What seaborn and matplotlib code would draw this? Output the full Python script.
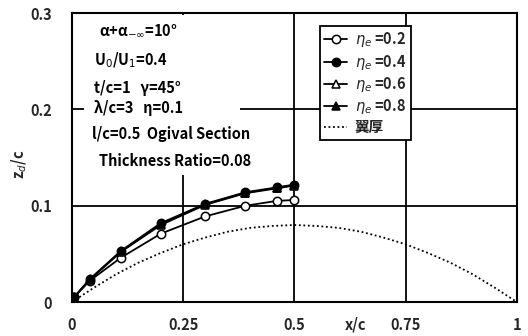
import matplotlib
matplotlib.use("Agg")
import matplotlib.pyplot as plt
import seaborn as sns
import numpy as np
import pandas as pd
from matplotlib.patches import Rectangle

# ---- data ----
x_pts = [0.005, 0.04, 0.11, 0.20, 0.30, 0.39, 0.46, 0.50]
eta02 = [0.005, 0.022, 0.046, 0.071, 0.089, 0.100, 0.105, 0.106]
eta04 = [0.005, 0.0235, 0.053, 0.082, 0.102, 0.114, 0.119, 0.122]
eta06 = [0.005, 0.023, 0.052, 0.080, 0.101, 0.113, 0.118, 0.121]
eta08 = [0.005, 0.0235, 0.0525, 0.081, 0.1015, 0.1135, 0.1185, 0.1215]
thick_x = [0.0, 0.05, 0.10, 0.15, 0.20, 0.25, 0.30, 0.35, 0.40, 0.45, 0.50,
           0.55, 0.60, 0.65, 0.70, 0.75, 0.80, 0.85, 0.90, 0.95, 1.0]
thick_y = [0.0, 0.015, 0.029, 0.041, 0.051, 0.060, 0.067, 0.073, 0.077, 0.079, 0.080,
           0.079, 0.077, 0.073, 0.067, 0.060, 0.051, 0.041, 0.029, 0.015, 0.0]
labels = [r"$\eta_e$ =0.2", r"$\eta_e$ =0.4", r"$\eta_e$ =0.6", r"$\eta_e$ =0.8", "翼厚"]
xticks = [0, 0.25, 0.5, 0.75, 1]
xticklabels = ["0", "0.25", "0.5", "0.75", "1"]
yticks = [0, 0.1, 0.2, 0.3]
yticklabels = ["0", "0.1", "0.2", "0.3"]

sns.set_theme(style="white")
plt.rcParams['font.family'] = ['Noto Sans CJK JP', 'DejaVu Sans']
plt.rcParams['mathtext.fontset'] = 'dejavusans'

fig = plt.figure(figsize=(5.28, 3.36), dpi=100)
ax = fig.add_axes([0.136, 0.101, 0.843, 0.860])
ax.set_xlim(0, 1)
ax.set_ylim(0, 0.3)

# grid lines
for gx in [0.25, 0.5, 0.75]:
    ax.axvline(gx, color='black', lw=1.3, zorder=1)
for gy in [0.1, 0.2]:
    ax.axhline(gy, color='black', lw=1.3, zorder=1)

# white box behind annotation text
ax.add_patch(Rectangle((0.027, 0.132), 0.35, 0.166, facecolor='white',
                       edgecolor='none', zorder=1.5))

series = [
    (eta02, 'o', 'white'),
    (eta04, 'o', 'black'),
    (eta06, '^', 'white'),
    (eta08, '^', 'black'),
]
for ys, m, fc in series:
    sns.lineplot(x=x_pts, y=ys, ax=ax, color='black', lw=1.3, marker=m,
                 markersize=6, markerfacecolor=fc, markeredgecolor='black',
                 markeredgewidth=1.1, zorder=3, sort=False)
sns.lineplot(x=thick_x, y=thick_y, ax=ax, color='black', lw=1.3,
             linestyle=(0, (1, 1.5)), zorder=2, sort=False)

handles = ax.get_lines()[-5:]
leg = ax.legend(handles, labels, loc='upper left', bbox_to_anchor=(0.557, 0.955),
                frameon=True, fancybox=False, edgecolor='black', framealpha=1,
                handlelength=1.6, handletextpad=0.5, borderpad=0.3,
                labelspacing=0.22, borderaxespad=0,
                prop={'size': 10.5, 'weight': 'bold'})
leg.get_frame().set_linewidth(1.3)
leg.set_zorder(5)

# annotation text
txt_kw = dict(fontsize=10.5, fontweight='bold', color='black', zorder=4,
              va='center', ha='left')
ax.text(0.06, 0.282, "α+α$_{-∞}$=10°", **txt_kw)
ax.text(0.05, 0.251, r"U$_0$/U$_1$=0.4", **txt_kw)
ax.text(0.05, 0.222, "t/c=1   γ=45°", **txt_kw)
ax.text(0.05, 0.201, "λ/c=3   η=0.1", **txt_kw)
ax.text(0.045, 0.175, "l/c=0.5  Ogival Section", **txt_kw)
ax.text(0.061, 0.146, "Thickness Ratio=0.08", **txt_kw)

# axes styling
ax.set_xticks(xticks)
ax.set_xticklabels(xticklabels, fontweight='bold', fontsize=10.5)
ax.set_yticks(yticks)
ax.set_yticklabels(yticklabels, fontweight='bold', fontsize=10.5)
ax.tick_params(axis='x', length=0, pad=11)
ax.tick_params(axis='y', length=0, pad=14)
for s in ax.spines.values():
    s.set_color('black')
    s.set_linewidth(1.5)
    s.set_visible(True)
ax.set_xlabel("")
ax.set_ylabel("")
ax.text(0.637, -0.0235, "x/c", fontsize=10.5, fontweight='bold', ha='center', va='center',
        transform=ax.transData, clip_on=False)
fig.text(0.036, 0.51, r"z$_d$/c", rotation=90, fontsize=10.5, fontweight='bold',
         ha='center', va='center')

fig.savefig("out.png", dpi=100, facecolor='white')
